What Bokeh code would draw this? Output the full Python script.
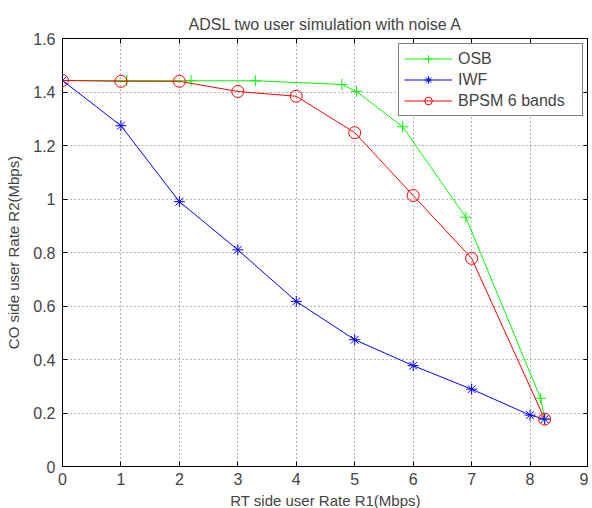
from bokeh.plotting import figure
from bokeh.models import LinearAxis, Range1d, FixedTicker, Legend, LegendItem, CustomJSTickFormatter
from bokeh.embed import file_html
from bokeh.resources import INLINE

# ---- data ----
osb_x = [0, 1.1, 2.2, 3.3, 4.78, 5.03, 5.82, 6.9, 8.18, 8.25]
osb_y = [1.443, 1.443, 1.442, 1.442, 1.428, 1.402, 1.27, 0.932, 0.255, 0.178]

iwf_x = [0, 1, 2, 3, 4, 5, 6, 7, 8, 8.25]
iwf_y = [1.443, 1.274, 0.99, 0.81, 0.617, 0.474, 0.377, 0.289, 0.192, 0.177]

bpsm_x = [0, 1, 2, 3, 4, 5, 6, 7, 8.25]
bpsm_y = [1.443, 1.44, 1.44, 1.402, 1.384, 1.248, 1.013, 0.778, 0.177]

x_ticks = [0, 1, 2, 3, 4, 5, 6, 7, 8, 9]
y_ticks = [0, 0.2, 0.4, 0.6, 0.8, 1.0, 1.2, 1.4, 1.6]

title_text = "ADSL two user simulation with noise A"
x_label = "RT side user Rate R1(Mbps)"
y_label = "CO side user Rate R2(Mbps)"

FONT = "Liberation Sans"

p = figure(frame_width=526, frame_height=428, output_backend="svg", toolbar_location=None,
           x_range=Range1d(0, 9), y_range=Range1d(0, 1.6),
           x_axis_label=x_label, y_axis_label=y_label,
           min_border_left=62, min_border_right=0, min_border_top=38, min_border_bottom=0)

p.title.text = title_text
p.title.align = "center"
p.title.text_font = FONT
p.title.text_font_size = "16px"
p.title.text_font_style = "normal"
p.title.offset = 0
p.title.standoff = 12

p.outline_line_color = "black"
p.outline_line_width = 1
p.background_fill_color = "white"
p.border_fill_color = "white"

for ax in (p.xaxis[0], p.yaxis[0]):
    ax.major_tick_in = 5
    ax.major_tick_out = 0
    ax.minor_tick_line_color = None
    ax.major_label_text_font = FONT
    ax.major_label_text_font_size = "16px"
    ax.axis_label_text_font = FONT
    ax.axis_label_text_font_size = "15px"
    ax.axis_label_text_font_style = "normal"
    ax.axis_line_color = "black"
    ax.major_tick_line_color = "black"

p.xaxis[0].major_label_standoff = 6
p.yaxis[0].major_label_standoff = 7
p.xaxis[0].ticker = FixedTicker(ticks=x_ticks)
p.yaxis[0].ticker = FixedTicker(ticks=y_ticks)
p.xaxis[0].axis_label_standoff = 4
p.yaxis[0].axis_label_standoff = 8

fmt = CustomJSTickFormatter(code="return (Math.round(tick*10)/10).toString();")
p.xaxis[0].formatter = fmt
p.yaxis[0].formatter = fmt

blank = CustomJSTickFormatter(code="return '';")
top = LinearAxis(ticker=FixedTicker(ticks=x_ticks), formatter=blank,
                 major_tick_in=5, major_tick_out=0, minor_tick_line_color=None,
                 major_label_standoff=0, major_label_text_font_size="1px")
right = LinearAxis(ticker=FixedTicker(ticks=y_ticks), formatter=blank,
                   major_tick_in=5, major_tick_out=0, minor_tick_line_color=None,
                   major_label_standoff=0, major_label_text_font_size="1px")
p.add_layout(top, "above")
p.add_layout(right, "right")

p.xgrid.ticker = FixedTicker(ticks=x_ticks)
p.ygrid.ticker = FixedTicker(ticks=y_ticks)
for g in (p.xgrid[0], p.ygrid[0]):
    g.grid_line_color = "#333333"
    g.grid_line_alpha = 0.7
    g.grid_line_dash = "1 3"
    g.grid_line_width = 1

GREEN = "#00ff00"
BLUE = "#0000ff"
RED = "#ff0000"

l1 = p.line(osb_x, osb_y, line_color=GREEN, line_width=1)
m1 = p.scatter(osb_x, osb_y, marker="cross", size=11, line_color=GREEN, line_width=1)
l2 = p.line(iwf_x, iwf_y, line_color=BLUE, line_width=1)
m2 = p.scatter(iwf_x, iwf_y, marker="asterisk", size=11, line_color=BLUE, line_width=1)
l3 = p.line(bpsm_x, bpsm_y, line_color=RED, line_width=1)
m3 = p.scatter(bpsm_x, bpsm_y, marker="circle", size=12, line_color=RED, fill_color=None, line_width=1)

legend = Legend(items=[LegendItem(label="OSB", renderers=[l1, m1]),
                       LegendItem(label="IWF", renderers=[l2, m2]),
                       LegendItem(label="BPSM 6 bands", renderers=[l3, m3])],
                location="top_right", margin=5, padding=5, spacing=2,
                glyph_width=48, glyph_height=19, label_standoff=6,
                label_width=119,
                label_text_font=FONT, label_text_font_size="16px",
                border_line_color="black", border_line_width=1,
                background_fill_alpha=1.0)
p.add_layout(legend, "center")

open("out.html", "w").write(file_html(p, INLINE))
